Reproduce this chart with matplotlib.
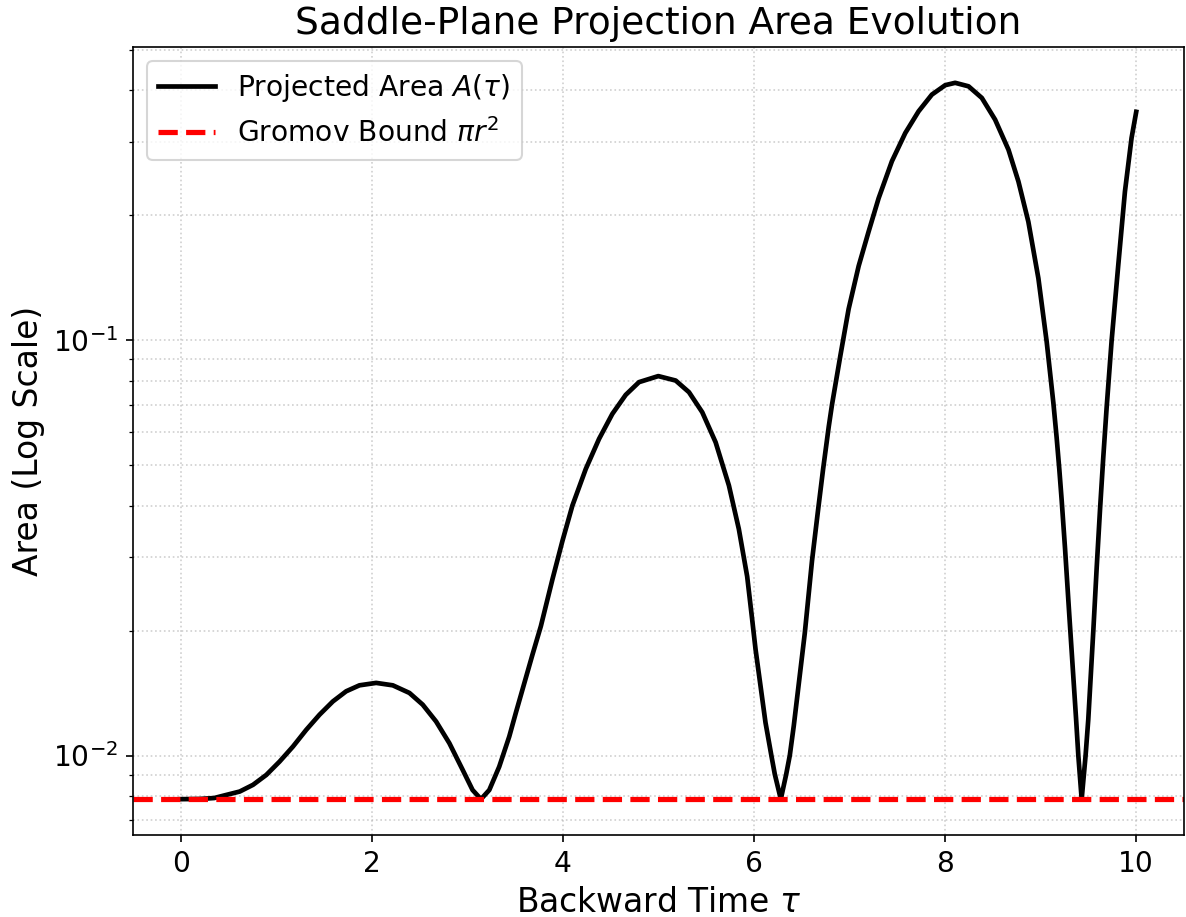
import matplotlib
matplotlib.use("Agg")
import matplotlib.pyplot as plt

# values
tau = [0.00, 0.20, 0.35, 0.442, 0.617, 0.756, 0.895, 1.034, 1.174, 1.313,
       1.452, 1.592, 1.731, 1.870, 2.045, 2.219, 2.393, 2.532, 2.672, 2.811,
       2.950, 3.054, 3.142, 3.229, 3.333, 3.438, 3.508, 3.681, 3.769, 3.890,
       3.995, 4.099, 4.239, 4.378, 4.517, 4.657, 4.796, 4.998, 5.180, 5.319,
       5.458, 5.598, 5.737, 5.841, 5.928, 5.981, 6.016, 6.120, 6.183, 6.217,
       6.280, 6.336, 6.374, 6.416, 6.531, 6.607, 6.670, 6.723, 6.782, 6.816,
       6.904, 6.990, 7.095, 7.199, 7.304, 7.443, 7.583, 7.722, 7.861, 8.001,
       8.105, 8.245, 8.384, 8.523, 8.663, 8.767, 8.871, 8.976, 9.063, 9.133,
       9.167, 9.195, 9.220, 9.255, 9.300, 9.370, 9.394, 9.429, 9.470, 9.498,
       9.551, 9.586, 9.621, 9.655, 9.690, 9.742, 9.812, 9.882, 9.951, 10.00]
area = [0.00785, 0.00786, 0.00790, 0.00800, 0.00819, 0.00850, 0.00898, 0.00967, 0.01051, 0.01153,
        0.01254, 0.01350, 0.01428, 0.01476, 0.01496, 0.01476, 0.01415, 0.01326, 0.01208, 0.01071,
        0.00924, 0.00826, 0.00785, 0.00826, 0.00940, 0.01111, 0.01270, 0.01750, 0.02050, 0.02657,
        0.03290, 0.04000, 0.04900, 0.05790, 0.06650, 0.07390, 0.07930, 0.08200, 0.08000, 0.07500,
        0.06710, 0.05680, 0.04470, 0.03510, 0.02700, 0.02120, 0.01800, 0.01200, 0.00995, 0.00902,
        0.00785, 0.00900, 0.01000, 0.01180, 0.01970, 0.02950, 0.03900, 0.04900, 0.06200, 0.07000,
        0.09200, 0.11900, 0.15100, 0.18270, 0.21990, 0.27000, 0.31570, 0.35600, 0.39060, 0.41160,
        0.41700, 0.40900, 0.38350, 0.34000, 0.28770, 0.24130, 0.19300, 0.14100, 0.09910, 0.07060,
        0.05830, 0.04890, 0.04110, 0.03150, 0.02170, 0.01230, 0.01000, 0.00785, 0.01000, 0.01220,
        0.02000, 0.02830, 0.03910, 0.05220, 0.06870, 0.09950, 0.15170, 0.22830, 0.30700, 0.35500]
bound = 0.00785

fig = plt.figure(figsize=(1186 / 150, 917 / 150), dpi=150)
ax = fig.add_axes([133 / 1186, 1 - 835 / 917, 1051 / 1186, 788 / 917])

ax.plot(tau, area, color="black", lw=2.25, label=r"Projected Area $A(\tau)$")
ax.axhline(bound, color="red", ls="--", lw=2.5, label=r"Gromov Bound $\pi r^2$")

ax.set_yscale("log")
ax.set_title("Saddle-Plane Projection Area Evolution", fontsize=18)
ax.set_xlabel(r"Backward Time $\tau$", fontsize=15.75)
ax.set_ylabel("Area (Log Scale)", fontsize=15.75)
ax.tick_params(labelsize=13.5)
ax.grid(True, which="both", ls=":", alpha=0.6)
ax.legend(loc="upper left", fontsize=13.5)

fig.savefig("out.png", dpi=150)
